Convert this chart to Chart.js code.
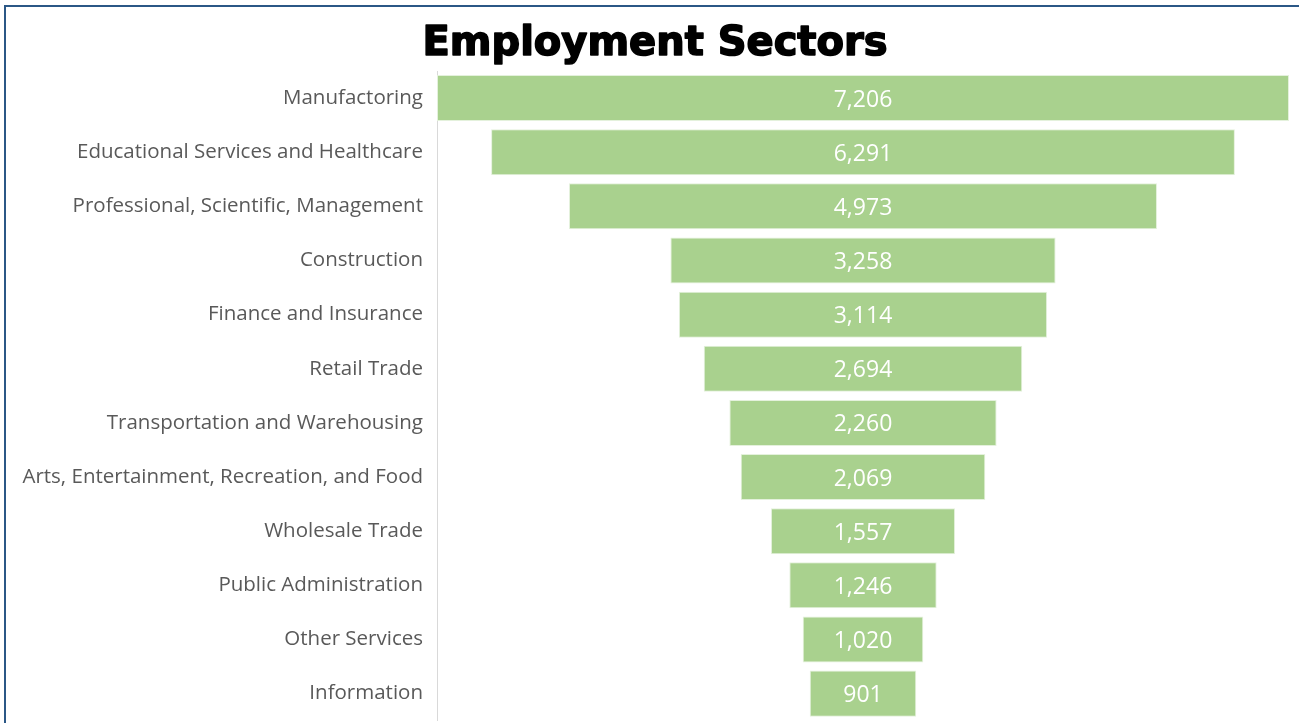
<!DOCTYPE html>
<html>
<head>
<meta charset="utf-8">
<title>Employment Sectors</title>
<script src="https://cdn.jsdelivr.net/npm/chart.js@4"></script>
<style>
  html, body { margin: 0; padding: 0; background: #fff; overflow: hidden; }
  #frame {
    position: absolute; left: 4px; top: 5px; width: 1310px; height: 740px;
    border-left: 2px solid #2b5786; border-top: 2px solid #2b5786;
  }
  #wrap { position: absolute; left: 0; top: 0; width: 1299px; height: 739px; }
</style>
</head>
<body>
<div id="frame"></div>
<div id="wrap"><canvas id="funnel"></canvas></div>
<script>
const chartTitle = "Employment Sectors";
const sectors = [
  "Manufactoring",
  "Educational Services and Healthcare",
  "Professional, Scientific, Management",
  "Construction",
  "Finance and Insurance",
  "Retail Trade",
  "Transportation and Warehousing",
  "Arts, Entertainment, Recreation, and Food",
  "Wholesale Trade",
  "Public Administration",
  "Other Services",
  "Information"
];
const workers = [7206, 6291, 4973, 3258, 3114, 2694, 2260, 2069, 1557, 1246, 1020, 901];

// funnel: each bar floats around zero so it stays centred
const spans = workers.map(v => [-v / 2, v / 2]);
const half = Math.max(...workers) / 2;

// ================= TITLE (extra heavy) =================
const heavyTitle = {
  id: "heavyTitle",
  afterDraw(chart) {
    const ctx = chart.ctx;
    ctx.save();
    ctx.font = "bold 40px 'DejaVu Sans'";
    ctx.fillStyle = "#000";
    ctx.strokeStyle = "#000";
    ctx.lineWidth = 1.6;
    ctx.lineJoin = "round";
    ctx.textAlign = "center";
    ctx.textBaseline = "alphabetic";
    ctx.fillText(chartTitle, 655, 55);
    ctx.strokeText(chartTitle, 655, 55);
    ctx.restore();
  }
};

// ================= VALUE LABELS =================
const valueLabels = {
  id: "valueLabels",
  afterDatasetsDraw(chart) {
    const ctx = chart.ctx;
    const meta = chart.getDatasetMeta(0);
    ctx.save();
    ctx.font = "23px 'Open Sans'";
    ctx.fillStyle = "#ffffff";
    ctx.textAlign = "center";
    ctx.textBaseline = "middle";
    meta.data.forEach((bar, i) => {
      const { x, base, y } = bar.getProps(["x", "base", "y"], true);
      ctx.fillText(workers[i].toLocaleString("en-US"), (x + base) / 2, y + 2);
    });
    ctx.restore();
  }
};

new Chart(document.getElementById("funnel"), {
  type: "bar",
  data: {
    labels: sectors,
    datasets: [{
      data: spans,
      backgroundColor: "#a9d18e",
      borderColor: "#e4f1dc",
      borderWidth: 1,
      borderSkipped: false,
      barPercentage: 0.85,
      categoryPercentage: 1
    }]
  },
  options: {
    indexAxis: "y",
    responsive: true,
    maintainAspectRatio: false,
    animation: false,
    layout: { padding: { top: 71, right: 10, bottom: 4, left: 0 } },
    plugins: {
      legend: { display: false },
      tooltip: { enabled: false },
      title: { display: false }
    },
    scales: {
      x: {
        min: -half,
        max: half,
        display: false
      },
      y: {
        afterFit(scale) { scale.width = 437; },
        grid: { display: false },
        border: { display: true, color: "#d9d9d9", width: 1 },
        ticks: {
          color: "#595959",
          font: { family: "Open Sans", size: 20.5 },
          padding: 6
        }
      }
    }
  },
  plugins: [valueLabels, heavyTitle]
});
</script>
</body>
</html>
